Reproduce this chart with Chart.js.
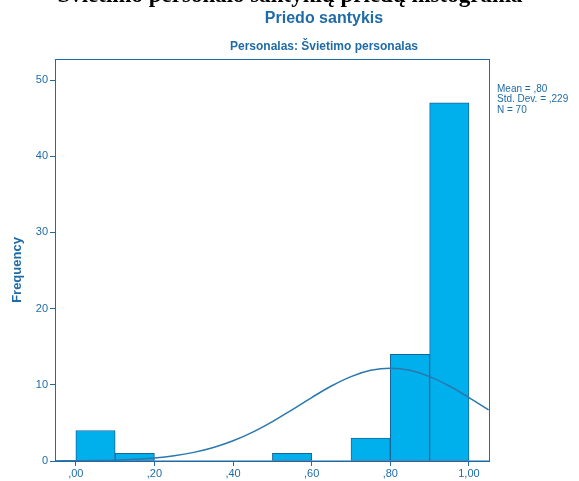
<!DOCTYPE html>
<html>
<head>
<meta charset="utf-8">
<script src="https://cdn.jsdelivr.net/npm/chart.js@4.4.1/dist/chart.umd.min.js"></script>
<style>
    body { margin: 0; background: #fff; }
    canvas { display: block; }
</style>
</head>
<body>
<canvas id="histChart" width="579" height="481"></canvas>
<script>
// Histogram bins (centre of each 0,1 wide bin) and their counts
const binCenters = [0.05, 0.15, 0.55, 0.75, 0.85, 0.95];
const frequencies = [4, 1, 1, 3, 14, 47];

// Normal curve
const curveX = [-0.05, 0.00, 0.05, 0.10, 0.15, 0.20, 0.25, 0.30, 0.35, 0.40, 0.45, 0.50,
    0.55, 0.60, 0.65, 0.70, 0.75, 0.80, 0.85, 0.90, 0.95, 1.00, 1.05];
const curveY = [0.01, 0.03, 0.06, 0.11, 0.22, 0.39, 0.68, 1.13, 1.77, 2.65, 3.79, 5.17,
    6.72, 8.33, 9.84, 11.08, 11.9, 12.19, 11.9, 11.08, 9.84, 8.33, 6.72];

const xTicks = [0, 0.2, 0.4, 0.6, 0.8, 1.0];
const yTicks = [0, 10, 20, 30, 40, 50];

const pageTitle = 'Švietimo personalo santykių priedų histograma';
const chartTitle = 'Priedo santykis';
const chartSubtitle = 'Personalas: Švietimo personalas';
const yTitle = 'Frequency';
const statsLines = ['Mean = ,80', 'Std. Dev. = ,229', 'N = 70'];

const blue = '#1f6ba6';

function fmtComma(v) {
    // 0.2 -> ",20", 1 -> "1,00"
    return v.toFixed(2).replace('.', ',').replace(/^0/, '');
}

// Frame around the plot plus all the free text
const decorPlugin = {
    id: 'decor',
    beforeDatasetsDraw(chart) {
        const a = chart.chartArea;
        const ctx = chart.ctx;
        ctx.save();
        ctx.strokeStyle = blue;
        ctx.lineWidth = 1;
        ctx.strokeRect(a.left + 0.5, a.top, a.right - a.left, a.bottom - a.top);
        ctx.restore();
    },
    afterDraw(chart) {
        const ctx = chart.ctx;
        const a = chart.chartArea;
        ctx.save();

        // cut off heading of the page above the chart
        ctx.fillStyle = '#000';
        ctx.font = 'bold 23px "Liberation Serif"';
        ctx.textAlign = 'center';
        ctx.textBaseline = 'alphabetic';
        ctx.fillText(pageTitle, 290, 2);

        ctx.fillStyle = blue;
        ctx.font = 'bold 16px "Liberation Sans"';
        ctx.textBaseline = 'middle';
        ctx.fillText(chartTitle, 324, 19);

        ctx.font = 'bold 12px "Liberation Sans"';
        ctx.fillText(chartSubtitle, 324, 47);

        ctx.save();
        ctx.translate(17, 270);
        ctx.rotate(-Math.PI / 2);
        ctx.font = 'bold 13px "Liberation Sans"';
        ctx.fillText(yTitle, 0, 0);
        ctx.restore();

        ctx.textAlign = 'left';
        ctx.font = '10px "Liberation Sans"';
        statsLines.forEach((line, i) => {
            ctx.fillText(line, a.right + 8, 89 + i * 10.5);
        });
        ctx.restore();
    }
};

const ctx = document.getElementById('histChart').getContext('2d');
const histChart = new Chart(ctx, {
    data: {
        datasets: [{
            type: 'line',
            label: 'Normal',
            data: curveX.map((x, i) => ({ x: x, y: curveY[i] })),
            borderColor: '#2a78ad',
            borderWidth: 1.5,
            pointRadius: 0,
            tension: 0.4,
            fill: false,
            order: 0
        }, {
            type: 'bar',
            label: 'Frequency',
            data: binCenters.map((x, i) => ({ x: x, y: frequencies[i] })),
            backgroundColor: '#00b0ec',
            borderColor: '#1a649c',
            borderWidth: 1,
            borderSkipped: false,
            barPercentage: 1,
            categoryPercentage: 1,
            order: 1
        }]
    },
    options: {
        responsive: false,
        animation: false,
        devicePixelRatio: 1,
        layout: { padding: { left: 0, top: 59.5, right: 90, bottom: 0 } },
        plugins: {
            legend: { display: false },
            tooltip: { enabled: false }
        },
        scales: {
            x: {
                type: 'linear',
                offset: false,
                min: -0.053,
                max: 1.051,
                afterBuildTicks: scale => { scale.ticks = xTicks.map(v => ({ value: v })); },
                afterFit: scale => { scale.height = 20; },
                ticks: {
                    color: blue,
                    font: { family: 'Liberation Sans', size: 11 },
                    padding: 1,
                    maxRotation: 0,
                    callback: v => fmtComma(v)
                },
                grid: { offset: false, drawOnChartArea: false, drawTicks: true, tickLength: 5, color: blue },
                border: { display: true, color: blue }
            },
            y: {
                type: 'linear',
                min: 0,
                max: 52.7,
                afterBuildTicks: scale => { scale.ticks = yTicks.map(v => ({ value: v })); },
                afterFit: scale => { scale.width = 55; },
                ticks: {
                    color: blue,
                    font: { family: 'Liberation Sans', size: 11 },
                    padding: 2
                },
                grid: { drawOnChartArea: false, drawTicks: true, tickLength: 5, color: blue },
                border: { display: true, color: blue }
            }
        }
    },
    plugins: [decorPlugin]
});
</script>
</body>
</html>
